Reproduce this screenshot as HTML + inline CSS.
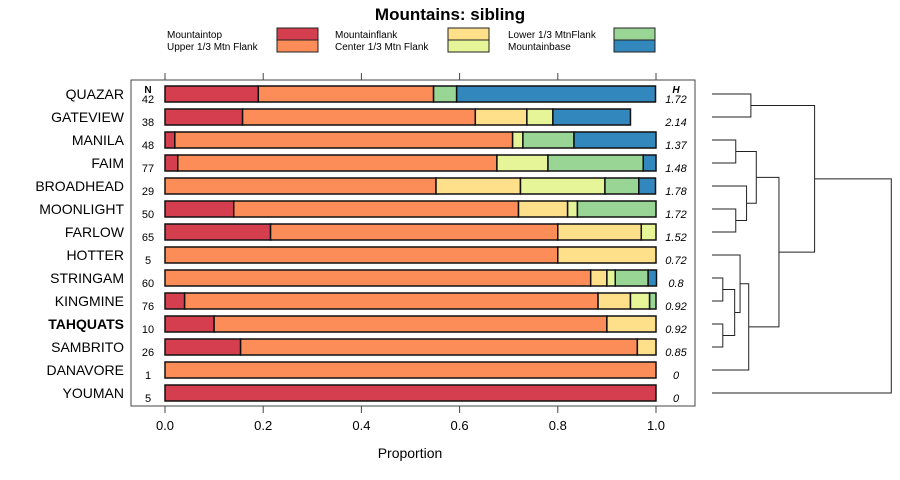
<!DOCTYPE html>
<html><head><meta charset="utf-8"><style>
body{margin:0;background:#fff;}
svg{display:block;font-family:"Liberation Sans",sans-serif;}
</style></head><body>
<svg id="chart" width="900" height="480"></svg>
<script>
const sites=["QUAZAR","GATEVIEW","MANILA","FAIM","BROADHEAD","MOONLIGHT","FARLOW","HOTTER","STRINGAM","KINGMINE","TAHQUATS","SAMBRITO","DANAVORE","YOUMAN"];
const nVals=[42,38,48,77,29,50,65,5,60,76,10,26,1,5];
const hVals=["1.72","2.14","1.37","1.48","1.78","1.72","1.52","0.72","0.8","0.92","0.92","0.85","0","0"];
const catNames=["Mountaintop","Upper 1/3 Mtn Flank","Mountainflank","Center 1/3 Mtn Flank","Lower 1/3 MtnFlank","Mountainbase"];
const catColors=["#d53e4f","#fc8d59","#fee08b","#e6f598","#99d594","#3288bd"];
const sMountaintop=[0.19,0.158,0.02,0.026,0,0.14,0.215,0,0,0.04,0.1,0.154,0,1];
const sUpper=[0.357,0.474,0.688,0.65,0.552,0.58,0.585,0.8,0.867,0.842,0.8,0.808,1,0];
const sFlank=[0,0.105,0,0,0.172,0.10,0.17,0.2,0.033,0.066,0.1,0.038,0,0];
const sCenter=[0,0.053,0.021,0.104,0.172,0.02,0.03,0,0.017,0.039,0,0,0,0];
const sLower=[0.047,0,0.104,0.194,0.069,0.16,0,0,0.067,0.013,0,0,0,0];
const sBase=[0.405,0.158,0.167,0.026,0.034,0,0,0,0.017,0,0,0,0,0];
const xTicks=[0,0.2,0.4,0.6,0.8,1.0];
const xTickLabels=["0.0","0.2","0.4","0.6","0.8","1.0"];
// dendrogram: merges [left, right, height], negative = leaf index, positive = merge index (1-based)
const dendroMerges=[[-9,-10,0.10],[-11,-12,0.10],[1,2,0.21],[-8,3,0.26],[-6,-7,0.22],[-5,5,0.32],[-3,-4,0.22],[7,6,0.41],[4,-13,0.34],[8,9,0.62],[-1,-2,0.36],[11,10,0.95],[12,-14,1.66]];

const svg=document.getElementById('chart');
const NS="http://www.w3.org/2000/svg";
function mk(tag,attrs,parent){const e=document.createElementNS(NS,tag);for(const k in attrs)e.setAttribute(k,attrs[k]);(parent||svg).appendChild(e);return e;}
const x0=165,x1=656;
const xs=v=>x0+(x1-x0)*v;
const ys=i=>94+i*23;
const dx=h=>712+h*108;

let t=mk('text',{x:450,y:20,'text-anchor':'middle','font-size':17,'font-weight':'bold'});t.textContent="Mountains: sibling";



// legend
const legPos=[[167,277],[167,277],[335,448],[335,448],[508,614],[508,614]];
catNames.forEach((c,k)=>{
  const g=mk('g',{});
  
  
  const row=k%2, p=legPos[k];
  const tt=mk('text',{x:p[0],y:38+row*12,'font-size':10},g);tt.textContent=c;
  mk('rect',{x:p[1],y:28+row*12,width:41,height:12,fill:catColors[k],stroke:'#222','stroke-width':1},g);
});

// panel
const panel=mk('rect',{x:131,y:80,width:564,height:326,fill:'none',stroke:'#444','stroke-width':1});


xTicks.forEach((v,k)=>{
  mk('line',{x1:xs(v),x2:xs(v),y1:73,y2:80,stroke:'#444'});
  mk('line',{x1:xs(v),x2:xs(v),y1:406,y2:413,stroke:'#444'});
  const l=mk('text',{x:xs(v),y:430,'text-anchor':'middle','font-size':13});l.textContent=xTickLabels[k];
  
  
});
t=mk('text',{x:410,y:458,'text-anchor':'middle','font-size':14});t.textContent="Proportion";


t=mk('text',{x:148,y:93,'text-anchor':'middle','font-size':10,'font-weight':'bold'});t.textContent="N";


t=mk('text',{x:676,y:93,'text-anchor':'middle','font-size':10,'font-weight':'bold','font-style':'italic'});t.textContent="H";



const series=[sMountaintop,sUpper,sFlank,sCenter,sLower,sBase];
sites.forEach((s,i)=>{
  const y=ys(i);
  const lab=mk('text',{x:124,y:y+5,'text-anchor':'end','font-size':14,'font-weight':s==="TAHQUATS"?'bold':'normal'});lab.textContent=s;
  
  
  const n=mk('text',{x:148,y:y+9,'text-anchor':'middle','font-size':11});n.textContent=nVals[i];
  
  
  const h=mk('text',{x:676,y:y+9,'text-anchor':'middle','font-size':11,'font-style':'italic'});h.textContent=hVals[i];
  
  
  let cum=0;
  series.forEach((ser,k)=>{
    const v=ser[i]; if(v<=0)return;
    const r=mk('rect',{x:xs(cum),y:y-8,width:xs(cum+v)-xs(cum),height:16,fill:catColors[k],stroke:'#111','stroke-width':1.5});
    
    
    cum+=v;
  });
});

// dendrogram
const nodes=[];
function nodeInfo(id){ if(id<0){const i=-id-1;return {x:712,y:ys(i)};} return nodes[id-1]; }
dendroMerges.forEach(m=>{
  const a=nodeInfo(m[0]),b=nodeInfo(m[1]),hx=dx(m[2]);
  const p=mk('path',{d:`M${a.x},${a.y}H${hx}V${b.y}H${b.x}`,fill:'none',stroke:'#222','stroke-width':1});
  
  
  nodes.push({x:hx,y:(a.y+b.y)/2});
});
</script>
</body></html>
